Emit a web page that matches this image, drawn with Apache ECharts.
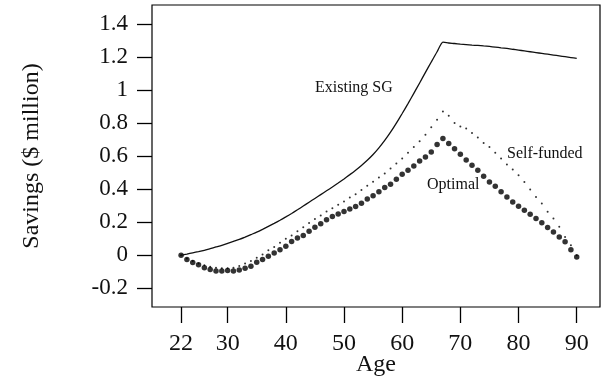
<!DOCTYPE html>
<html>
<head>
<meta charset="utf-8">
<script src="https://cdn.jsdelivr.net/npm/echarts@6/dist/echarts.min.js"></script>
<style>
  html, body { margin: 0; padding: 0; background: #fff; }
  #chart { width: 604px; height: 379px; }
</style>
</head>
<body>
<div id="chart"></div>
<script>
// ages 22..90, one value per year ($ million)
const ages = [];
for (let a = 22; a <= 90; a++) ages.push(a);

const existingSG = [
  0, 0.007, 0.015, 0.022, 0.03, 0.04, 0.05, 0.06, 0.072, 0.084,
  0.096, 0.11, 0.125, 0.14, 0.157, 0.175, 0.193, 0.212, 0.232, 0.253,
  0.275, 0.298, 0.321, 0.344, 0.367, 0.39, 0.413, 0.437, 0.462, 0.488,
  0.515, 0.544, 0.575, 0.61, 0.65, 0.695, 0.745, 0.8, 0.858, 0.918,
  0.98, 1.043, 1.107, 1.17, 1.232, 1.29, 1.285, 1.282, 1.278, 1.275,
  1.272, 1.27, 1.267, 1.264, 1.26, 1.256, 1.252, 1.247, 1.242, 1.237,
  1.232, 1.227, 1.222, 1.217, 1.212, 1.207, 1.202, 1.197, 1.192
];

const selfFunded = [
  0, -0.02, -0.035, -0.05, -0.06, -0.07, -0.075, -0.078, -0.078, -0.075,
  -0.065, -0.05, -0.035, -0.015, 0.005, 0.03, 0.05, 0.075, 0.1, 0.12,
  0.145, 0.17, 0.195, 0.22, 0.24, 0.265, 0.285, 0.305, 0.325, 0.35,
  0.37, 0.395, 0.42, 0.445, 0.47, 0.495, 0.525, 0.555, 0.585, 0.62,
  0.655, 0.69, 0.73, 0.775, 0.82, 0.87, 0.845, 0.8, 0.78, 0.768,
  0.74, 0.713, 0.68, 0.656, 0.62, 0.585, 0.55, 0.519, 0.485, 0.444,
  0.398, 0.353, 0.313, 0.263, 0.222, 0.172, 0.111, 0.06, 0.0
];

const optimal = [
  0, -0.026, -0.044, -0.057, -0.075, -0.087, -0.095, -0.095, -0.093, -0.095,
  -0.089, -0.079, -0.067, -0.042, -0.026, -0.006, 0.014, 0.034, 0.055, 0.083,
  0.105, 0.12, 0.145, 0.17, 0.19, 0.215, 0.235, 0.25, 0.265, 0.28,
  0.295, 0.315, 0.34, 0.36, 0.385, 0.41, 0.43, 0.46, 0.49, 0.515,
  0.54, 0.57, 0.595, 0.625, 0.67, 0.707, 0.677, 0.645, 0.612, 0.576,
  0.545, 0.515, 0.479, 0.444, 0.418, 0.384, 0.353, 0.323, 0.297, 0.273,
  0.248, 0.222, 0.196, 0.168, 0.141, 0.111, 0.081, 0.034, -0.01
];

const xTicks = [22, 30, 40, 50, 60, 70, 80, 90];
const yTicks = [-0.2, 0, 0.2, 0.4, 0.6, 0.8, 1, 1.2, 1.4];

const pairs = (vals) => ages.map((a, i) => [a, vals[i]]);

const font = "'Liberation Serif', 'DejaVu Serif', serif";
const ink = "#111";

const chart = echarts.init(document.getElementById("chart"));

const option = {
  animation: false,
  grid: {
    show: true,
    left: 152,
    right: 4,
    top: 5,
    bottom: 72,
    outerBoundsMode: "none",
    containLabel: false,
    borderColor: "#000",
    borderWidth: 1.2,
    backgroundColor: "transparent"
  },
  xAxis: {
    type: "value",
    min: 17,
    max: 94,
    name: "Age",
    nameLocation: "middle",
    nameGap: 46,
    nameMoveOverlap: false,
    nameTextStyle: { fontFamily: font, fontSize: 24, color: ink },
    axisLine: { show: false, onZero: false },
    axisTick: {
      show: true,
      inside: false,
      length: 16,
      customValues: xTicks,
      lineStyle: { color: "#000", width: 1.3 }
    },
    axisLabel: {
      customValues: xTicks,
      margin: 25,
      fontFamily: font,
      fontSize: 24,
      color: ink
    },
    splitLine: { show: false }
  },
  yAxis: {
    type: "value",
    min: -0.3133,
    max: 1.515,
    name: "Savings ($ million)",
    nameLocation: "middle",
    nameGap: 108,
    nameRotate: 90,
    nameMoveOverlap: false,
    nameTextStyle: { fontFamily: font, fontSize: 24, color: ink },
    axisLine: { show: false, onZero: false },
    axisTick: {
      show: true,
      inside: false,
      length: 15,
      customValues: yTicks,
      lineStyle: { color: "#000", width: 1.3 }
    },
    axisLabel: {
      customValues: yTicks,
      margin: 24,
      fontFamily: font,
      fontSize: 23,
      color: ink,
      formatter: (v) => String(+v.toFixed(1))
    },
    splitLine: { show: false }
  },
  graphic: [
    { type: "text", left: 315, top: 80, style: { text: "Existing SG", font: "16px " + font, fill: ink } },
    { type: "text", left: 507, top: 146, style: { text: "Self-funded", font: "16px " + font, fill: ink } },
    { type: "text", left: 427, top: 177, style: { text: "Optimal", font: "16px " + font, fill: ink } }
  ],
  series: [
    {
      name: "Existing SG",
      type: "line",
      data: pairs(existingSG),
      showSymbol: false,
      smooth: 0.2,
      lineStyle: { color: "#111", width: 1.3 }
    },
    {
      name: "Self-funded",
      type: "scatter",
      data: pairs(selfFunded),
      symbol: "circle",
      symbolSize: 2,
      itemStyle: { color: "#000" }
    },
    {
      name: "Optimal",
      type: "scatter",
      data: pairs(optimal),
      symbol: "circle",
      symbolSize: 5.5,
      itemStyle: { color: "#000" }
    }
  ]
};

chart.setOption(option);
</script>
</body>
</html>
